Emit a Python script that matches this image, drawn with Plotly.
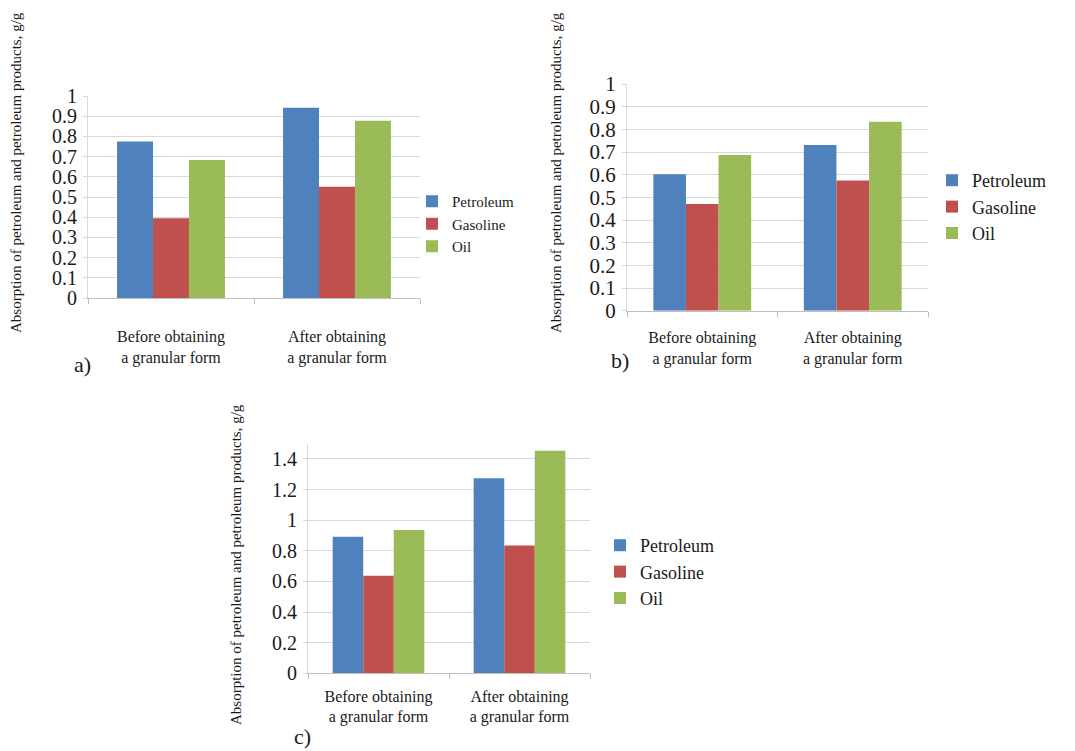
import plotly.graph_objects as go

W, H = 1075, 751

categories = ["Before obtaining<br>a granular form", "After obtaining<br>a granular form"]
series_names = ["Petroleum", "Gasoline", "Oil"]
colors = ["#4F81BD", "#C0504D", "#9BBB59"]

# chart a)
a_petroleum = [0.775, 0.942]
a_gasoline = [0.395, 0.551]
a_oil = [0.683, 0.878]
# chart b)
b_petroleum = [0.602, 0.731]
b_gasoline = [0.471, 0.574]
b_oil = [0.687, 0.834]
# chart c)
c_petroleum = [0.892, 1.273]
c_gasoline = [0.637, 0.834]
c_oil = [0.936, 1.454]

y_title = "Absorption of petroleum and petroleum products, g/g"
panel_labels = ["a)", "b)", "c)"]

SERIF = "Liberation Serif"
TXT = "#1a1a1a"


def px_x(px):
    return px / W


def px_y(py):
    return 1 - py / H


panels = [
    dict(data=[a_petroleum, a_gasoline, a_oil], x=(88, 420), y=(96, 298), rng=[0, 1], dtick=0.1,
         tfs=20, legend="legend", ax="", lab=panel_labels[0], lab_xy=(82, 365),
         title_xy=(16, 173), standoff=24),
    dict(data=[b_petroleum, b_gasoline, b_oil], x=(627, 928), y=(84, 310.7), rng=[0, 1], dtick=0.1,
         tfs=21, legend="legend2", ax="2", lab=panel_labels[1], lab_xy=(620, 360),
         title_xy=(556, 173), standoff=12),
    dict(data=[c_petroleum, c_gasoline, c_oil], x=(308, 590), y=(443.6, 673.3), rng=[0, 1.5], dtick=0.2,
         tfs=20, legend="legend3", ax="3", lab=panel_labels[2], lab_xy=(302, 736),
         title_xy=(236, 565), standoff=8),
]

fig = go.Figure()
annotations = []
layout = {}
for p in panels:
    xa = "x" + p["ax"]
    ya = "y" + p["ax"]
    for name, vals, col in zip(series_names, p["data"], colors):
        fig.add_trace(go.Bar(x=categories, y=vals, name=name, marker_color=col,
                             marker_line_width=0, xaxis=xa, yaxis=ya, legend=p["legend"]))
    xkey = "xaxis" + p["ax"]
    ykey = "yaxis" + p["ax"]
    layout[xkey] = dict(domain=[px_x(p["x"][0]), px_x(p["x"][1])], anchor=ya, automargin=False,
                        showline=True, linecolor="#BFBFBF", linewidth=1,
                        ticks="outside", tickson="boundaries", ticklen=5, tickcolor="#BFBFBF",
                        showgrid=False, tickfont=dict(family=SERIF, size=16, color=TXT),
                        ticklabelstandoff=p["standoff"], fixedrange=True)
    layout[ykey] = dict(domain=[px_y(p["y"][1]), px_y(p["y"][0])], anchor=xa, automargin=False,
                        range=p["rng"], dtick=p["dtick"], tick0=0,
                        showline=True, linecolor="#D9D9D9", linewidth=1,
                        ticks="outside", ticklen=4, tickcolor="#D9D9D9",
                        showgrid=True, gridcolor="#D9D9D9", gridwidth=1, zeroline=False,
                        tickfont=dict(family=SERIF, size=p["tfs"], color=TXT),
                        ticklabelstandoff=2, fixedrange=True)
    annotations.append(dict(text=y_title, textangle=-90, xref="paper", yref="paper",
                            x=px_x(p["title_xy"][0]), y=px_y(p["title_xy"][1]),
                            xanchor="center", yanchor="middle", showarrow=False,
                            font=dict(family=SERIF, size=15, color=TXT)))
    annotations.append(dict(text=p["lab"], xref="paper", yref="paper",
                            x=px_x(p["lab_xy"][0]), y=px_y(p["lab_xy"][1]),
                            xanchor="center", yanchor="middle", showarrow=False,
                            font=dict(family=SERIF, size=22, color=TXT)))

legend_common = dict(bgcolor="rgba(0,0,0,0)", borderwidth=0, xanchor="left", yanchor="top",
                     traceorder="normal", itemclick=False, itemdoubleclick=False)
layout["legend"] = dict(x=px_x(412), y=px_y(185), font=dict(family=SERIF, size=15, color=TXT),
                        **legend_common)
layout["legend2"] = dict(x=px_x(932), y=px_y(162), font=dict(family=SERIF, size=18, color=TXT),
                         **legend_common)
layout["legend3"] = dict(x=px_x(600), y=px_y(527), font=dict(family=SERIF, size=18, color=TXT),
                         **legend_common)

fig.update_layout(width=W, height=H, margin=dict(l=0, r=0, t=0, b=0, autoexpand=False),
                  paper_bgcolor="white", plot_bgcolor="white",
                  barmode="group", bargap=0.35, bargroupgap=0,
                  annotations=annotations, **layout)

fig.write_html("out.html", config={"displayModeBar": False},
               post_script="document.body.style.margin='0px';document.body.style.overflow='hidden';")
